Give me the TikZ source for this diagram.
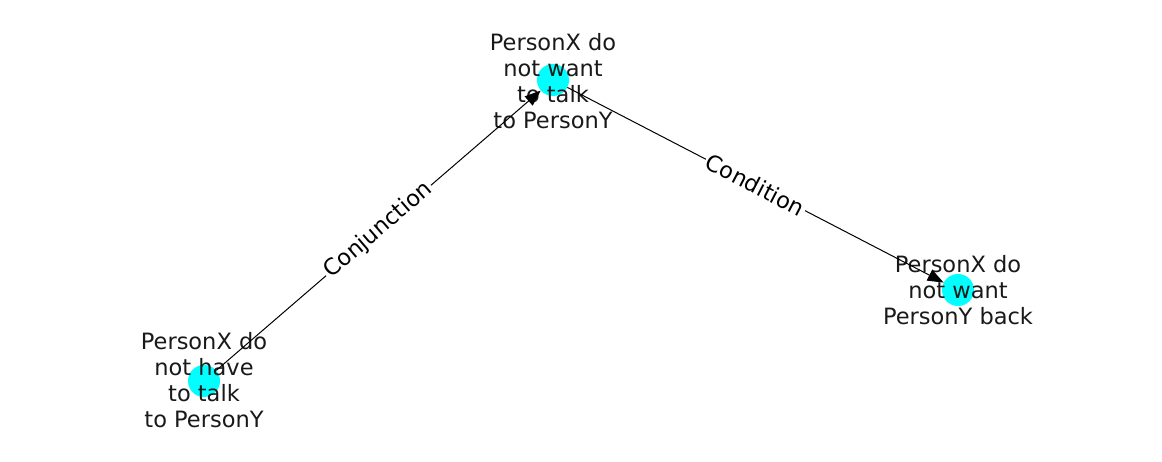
\documentclass[tikz,border=0pt]{standalone}
\usepackage{fontspec}
\setmainfont{DejaVu Sans}
\usetikzlibrary{arrows.meta}
\definecolor{nodecyan}{RGB}{0,255,255}
\tikzset{
  dot/.style={circle, fill=nodecyan, draw=none, minimum size=32pt, inner sep=0pt},
  lbl/.style={align=center, font=\fontsize{22.5}{26}\selectfont, inner sep=0pt, text=black!90},
  conn/.style={line width=1pt, -{Triangle[length=16pt,width=12pt]}},
  elbl/.style={font=\fontsize{22.5}{26}\selectfont, fill=white, inner sep=2pt, sloped}
}
\begin{document}
\begin{tikzpicture}[x=1pt,y=1pt]
\useasboundingbox (0,0) rectangle (1162,462);
\node[dot] (top) at (553,382) {};
\node[dot] (right) at (958,172) {};
\node[dot] (bl) at (204,81) {};
\node[lbl] (ttop) at (553,381) {PersonX do\\not want\\to talk\\to PersonY};
\node[lbl] (tright) at (958,172) {PersonX do\\not want\\PersonY back};
\node[lbl] (tbl) at (204,82) {PersonX do\\not have\\to talk\\to PersonY};
\draw[conn] (bl) -- node[elbl, pos=0.5] {Conjunction} (top);
\draw[conn] (top) -- node[elbl, pos=0.5] {Condition} (right);
\end{tikzpicture}
\end{document}
